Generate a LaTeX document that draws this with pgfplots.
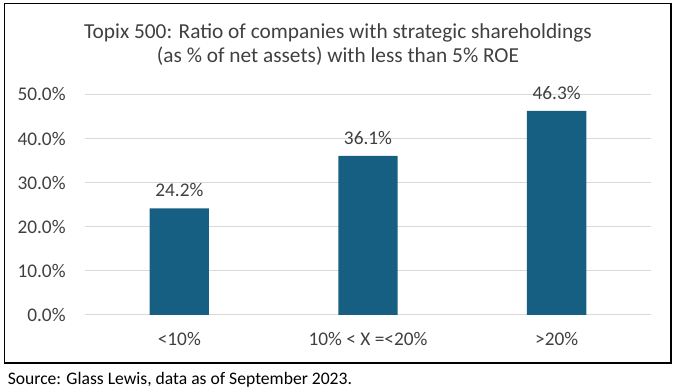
\documentclass[border=0pt]{standalone}
\usepackage{pgfplots}
\pgfplotsset{compat=1.18}
\usepackage{fontspec}
\setmainfont{Carlito}
\definecolor{barc}{RGB}{23,95,130}
\definecolor{txt}{RGB}{64,64,64}
\definecolor{gridc}{RGB}{217,217,217}
\begin{document}
\begin{tikzpicture}
\begin{scope}[x=0.75pt,y=-0.75pt]
\useasboundingbox (0,0) rectangle (676,392);
\draw[black, line width=0.9pt] (4.5,3.5) rectangle (671,363);
\node[font=\fontsize{16}{17.5}\selectfont, text=txt, align=center] at (338,44.5) {Topix 500: Ratio of companies with strategic shareholdings\\(as \% of net assets) with less than 5\% ROE};
\node[anchor=west, font=\fontsize{13.2}{15}\selectfont, inner sep=0pt] at (7.5,380) {Source: Glass Lewis, data as of September 2023.};
\end{scope}
\begin{axis}[
  at={({85*0.75pt},{-315*0.75pt})}, anchor=south west,
  scale only axis, width=424.5pt, height=165.4pt,
  ybar, bar width=44.5pt,
  ymin=0, ymax=50, xmin=-0.5, xmax=2.5,
  xtick={0,1,2}, xticklabels={<10\%, 10\% < X =<20\%, >20\%},
  ytick={0,10,...,50},
  /pgf/number format/assume math mode=true,
  yticklabel={\pgfmathprintnumber[fixed,fixed zerofill,precision=1]{\tick}\%},
  ymajorgrids, grid style={draw=gridc, line width=0.75pt},
  axis line style={draw=none}, major tick length=0pt,
  tick label style={font=\fontsize{14.5}{16}\selectfont, text=txt},
  yticklabel style={xshift=-11pt},
  xticklabel style={yshift=-9.5pt},
  nodes near coords={\pgfmathprintnumber[fixed,fixed zerofill,precision=1]{\pgfplotspointmeta}\%},
  every node near coord/.append style={font=\fontsize{14.5}{16}\selectfont, text=txt, yshift=5pt},
  clip=false,
]
\addplot[fill=barc, draw=none] coordinates {(0,24.2) (1,36.1) (2,46.3)};
\end{axis}
\end{tikzpicture}
\end{document}
